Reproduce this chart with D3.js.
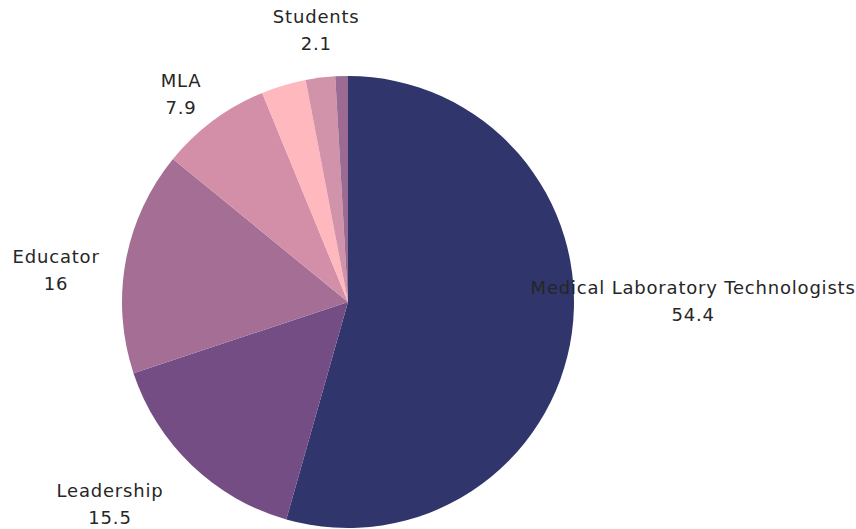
<!DOCTYPE html>
<html>
<head>
<meta charset="utf-8">
<script src="https://cdn.jsdelivr.net/npm/d3@7"></script>
<style>
  html, body { margin: 0; padding: 0; background: #fff; }
  svg { display: block; }
  text { font-family: "DejaVu Sans", sans-serif; fill: #262626; }
</style>
</head>
<body>
<svg id="chart" width="856" height="529"></svg>
<script>
// ---- data (clockwise from 12 o'clock) ----
const categories = ["Medical Laboratory Technologists", "Leadership", "Educator", "MLA", "Other", "Students", "Unspecified"];
const values     = [54.4, 15.5, 16, 7.9, 3.2, 2.1, 0.9];
const showLabel  = [true, true, true, true, false, true, false];
const colors     = ["#30356B", "#734D84", "#A46E95", "#D48FA8", "#FFB8BE", "#D193AA", "#9C6B94"];

// ---- label layout (polar: degrees clockwise from top, multiple of radius) ----
const labelAngle  = [90.0, 229.5, 276.1, 321.1, 0, 353.3, 0];
const labelRadius = [1.527, 1.385, 1.299, 1.177, 0, 1.207, 0];

const W = 856, H = 529;
const cx = 348, cy = 302, R = 226;
const fontSize = 18, lineGap = 27;

const svg = d3.select("#chart");
const data = categories.map((c, i) => ({ name: c, value: values[i], i }));

const pie = d3.pie().value(d => d.value).sort(null);
const arc = d3.arc().innerRadius(0).outerRadius(R);
const color = d3.scaleOrdinal().domain(categories).range(colors);

const g = svg.append("g").attr("transform", `translate(${cx},${cy})`);
const arcs = pie(data);

g.selectAll("path.slice")
  .data(arcs)
  .join("path")
  .attr("class", "slice")
  .attr("d", arc)
  .attr("fill", d => color(d.data.name));

const labels = g.selectAll("g.lbl")
  .data(arcs.filter(d => showLabel[d.data.i]))
  .join("g")
  .attr("class", "lbl");

labels.each(function(d) {
  const i = d.data.i;
  const a = labelAngle[i] * Math.PI / 180;
  const r = labelRadius[i] * R;
  const x = r * Math.sin(a), y = -r * Math.cos(a);
  const t = d3.select(this).append("text")
    .attr("text-anchor", "middle")
    .style("font-size", fontSize + "px")
    .style("letter-spacing", "0.8px");
  t.append("tspan").attr("x", x).attr("y", y - lineGap / 2).attr("dy", "0.3em").text(d.data.name);
  t.append("tspan").attr("x", x).attr("y", y + lineGap / 2).attr("dy", "0.3em").text(d.data.value);
});
</script>
</body>
</html>
